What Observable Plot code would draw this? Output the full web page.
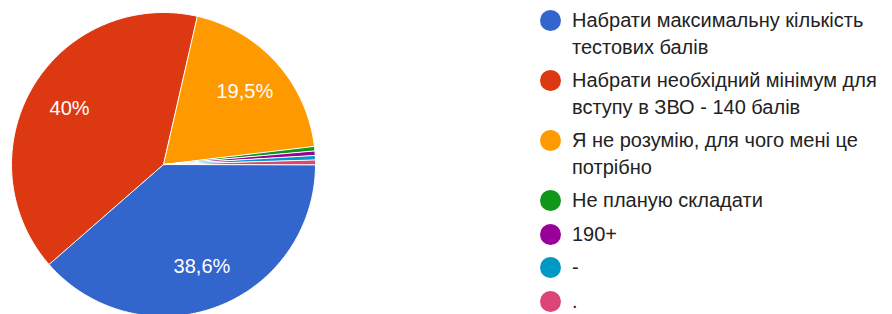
<!DOCTYPE html>
<html>
<head>
<meta charset="utf-8">
<script src="https://cdn.jsdelivr.net/npm/d3@7"></script>
<script src="https://cdn.jsdelivr.net/npm/@observablehq/plot@0.6"></script>
<style>
  html, body { margin: 0; padding: 0; background: #fff; }
  #wrap { position: relative; width: 892px; height: 314px; overflow: hidden; font-family: "Liberation Sans", Arial, sans-serif; }
  #pie { position: absolute; left: 0; top: 0; }
  #legend { position: absolute; left: 540px; top: 7px; width: 352px; }
  .item { display: flex; align-items: flex-start; margin-bottom: 7px; }
  .sw { flex: none; width: 21px; height: 21px; border-radius: 50%; margin-top: 3px; margin-right: 11px; }
  .lab { font-size: 20px; line-height: 26.5px; color: #222; max-width: 318px; }
</style>
</head>
<body>
<div id="wrap"><div id="pie"></div><div id="legend"></div></div>
<script>
const categories = [
  "Набрати максимальну кількість тестових балів",
  "Набрати необхідний мінімум для вступу в ЗВО - 140 балів",
  "Я не розумію, для чого мені це потрібно",
  "Не планую складати",
  "190+",
  "-",
  "."
];
const counts = [81, 84, 41, 1, 1, 1, 1];
const percentLabels = ["38,6%", "40%", "19,5%", "", "", "", ""];
const colors = ["#3366cc", "#dc3912", "#ff9900", "#109618", "#990099", "#0099c6", "#dd4477"];

const data = categories.map((c, i) => ({category: c, value: counts[i], label: percentLabels[i]}));
const arcs = d3.pie().sort(null).value(d => d.value)
  .startAngle(Math.PI / 2).endAngle(Math.PI / 2 + 2 * Math.PI)(data);

// polygon points of each slice (unit radius), built from pie angles
const pts = [];
for (const a of arcs) {
  const n = Math.max(2, Math.ceil((a.endAngle - a.startAngle) / (Math.PI / 180)));
  pts.push({category: a.data.category, x: 0, y: 0});
  for (let k = 0; k <= n; k++) {
    const t = a.startAngle + (a.endAngle - a.startAngle) * k / n;
    pts.push({category: a.data.category, x: Math.sin(t), y: Math.cos(t)});
  }
}
const labelPts = arcs.filter(a => a.data.label).map(a => {
  const m = (a.startAngle + a.endAngle) / 2;
  return {label: a.data.label, x: 0.72 * Math.sin(m), y: 0.72 * Math.cos(m)};
});

const R = 152, cx = 163, cy = 164;
const chart = Plot.plot({
  width: 330,
  height: 314,
  margin: 0,
  style: {background: "transparent", fontFamily: "'Liberation Sans', Arial, sans-serif"},
  x: {domain: [-1, 1], range: [cx - R, cx + R], axis: null},
  y: {domain: [-1, 1], range: [cy + R, cy - R], axis: null},
  color: {domain: categories, range: colors},
  marks: [
    Plot.line(pts, {x: "x", y: "y", z: "category", fill: "category", stroke: "#fff", strokeWidth: 1, curve: "linear-closed"}),
    Plot.text(labelPts, {x: "x", y: "y", text: "label", fill: "#fff", fontSize: 20})
  ]
});
document.getElementById("pie").appendChild(chart);

const legend = d3.select("#legend");
categories.forEach((c, i) => {
  const it = legend.append("div").attr("class", "item");
  it.append("div").attr("class", "sw").style("background", colors[i]);
  it.append("div").attr("class", "lab").text(c);
});
</script>
</body>
</html>
